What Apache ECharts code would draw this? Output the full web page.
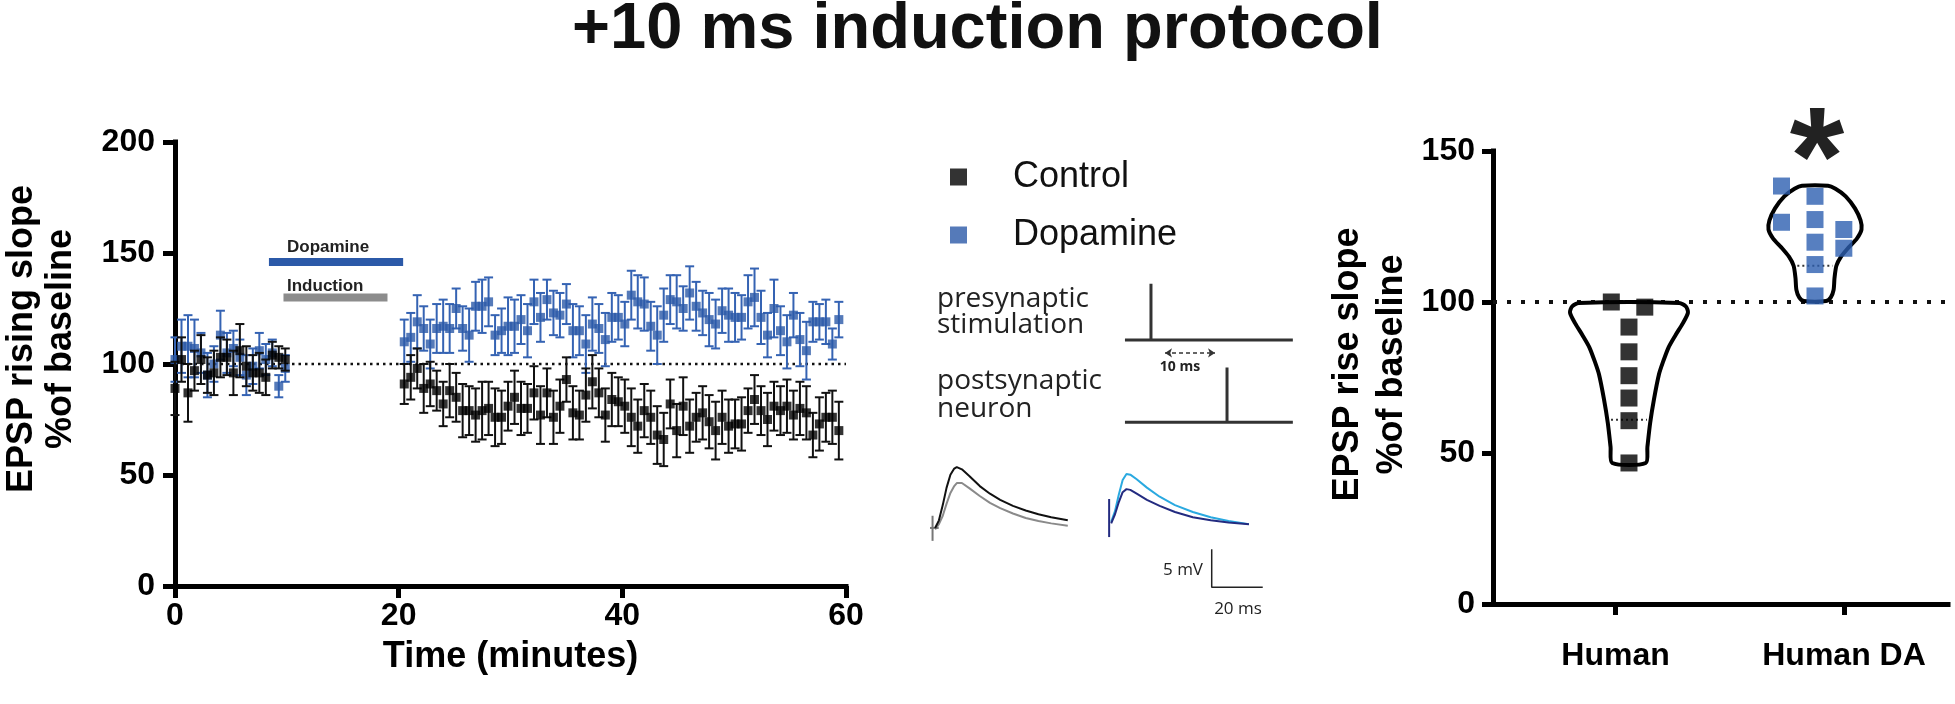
<!DOCTYPE html>
<html><head><meta charset="utf-8">
<script src="https://cdn.jsdelivr.net/npm/echarts@6/dist/echarts.min.js"></script>
<style>html,body{margin:0;padding:0;background:#fff}#c{width:1955px;height:704px}</style>
</head><body><div id="c"></div>
<script>
// ---------- Left panel: time course ----------
const baseTime = [0, 0.58, 1.16, 1.74, 2.32, 2.9, 3.48, 4.06, 4.64, 5.22, 5.8, 6.38, 6.96, 7.54, 8.12, 8.7, 9.28, 9.86];
const ctrlBase = [89, 102, 87, 97, 102, 95, 96, 103, 103, 96, 106, 99, 96, 96, 94, 104, 103, 102];
const ctrlBaseErr = [12, 10, 13, 9, 11, 8, 10, 9, 8, 10, 12, 9, 8, 9, 8, 6, 5, 5];
const daBase = [102, 108, 108, 107, 105, 95, 100, 113, 105, 107, 103, 95, 99, 106, 102, 105, 90, 98];
const daBaseErr = [10, 12, 14, 13, 9, 10, 8, 11, 9, 8, 8, 9, 8, 8, 7, 6, 5, 6];

const postTime = [20.5, 21.08, 21.66, 22.24, 22.82, 23.4, 23.98, 24.56, 25.14, 25.72,
  26.3, 26.88, 27.46, 28.04, 28.62, 29.2, 29.78, 30.36, 30.94, 31.52,
  32.1, 32.68, 33.26, 33.84, 34.42, 35, 35.58, 36.16, 36.74, 37.32,
  37.9, 38.48, 39.06, 39.64, 40.22, 40.8, 41.38, 41.96, 42.54, 43.12,
  43.7, 44.28, 44.86, 45.44, 46.02, 46.6, 47.18, 47.76, 48.34, 48.92,
  49.5, 50.08, 50.66, 51.24, 51.82, 52.4, 52.98, 53.56, 54.14, 54.72,
  55.3, 55.88, 56.46, 57.04, 57.62, 58.2, 58.78, 59.36];
const daPost = [110, 112, 119, 116, 109, 116, 117, 116, 125, 116,
  113, 126, 126, 128, 113, 115, 117, 117, 120, 115,
  128, 121, 129, 123, 122, 127, 115, 115, 109, 118,
  116, 111, 121, 121, 118, 131, 128, 127, 117, 113,
  122, 129, 128, 125, 132, 126, 123, 120, 118, 124,
  122, 121, 121, 128, 130, 121, 113, 125, 115, 110,
  122, 111, 106, 119, 119, 119, 109, 120];
const daPostErr = [10, 11, 12, 10, 11, 11, 12, 11, 9, 10,
  12, 11, 12, 11, 9, 10, 13, 12, 11, 12,
  10, 11, 9, 10, 10, 9, 12, 11, 13, 12,
  11, 12, 11, 10, 10, 11, 12, 12, 11, 13,
  12, 11, 12, 10, 12, 11, 10, 12, 11, 10,
  12, 11, 10, 12, 13, 12, 10, 13, 11, 12,
  10, 12, 13, 9, 8, 10, 7, 8];
const ctrlPost = [91, 94, 98, 89, 91, 88, 82, 88, 85, 79,
  79, 77, 79, 80, 76, 76, 81, 85, 80, 80,
  87, 77, 87, 76, 81, 93, 78, 77, 86, 92,
  87, 77, 84, 83, 81, 76, 72, 79, 76, 68,
  66, 82, 70, 81, 72, 76, 78, 74, 70, 76,
  72, 73, 73, 79, 84, 79, 75, 81, 79, 81,
  77, 80, 78, 68, 73, 76, 76, 70];
const ctrlPostErr = [9, 10, 9, 11, 10, 9, 10, 12, 11, 12,
  11, 12, 13, 12, 13, 12, 11, 12, 12, 11,
  12, 13, 11, 12, 12, 10, 12, 11, 12, 12,
  11, 12, 12, 11, 12, 13, 12, 12, 12, 13,
  12, 11, 12, 13, 12, 11, 12, 12, 13, 12,
  12, 11, 12, 10, 11, 11, 12, 11, 11, 12,
  11, 12, 12, 10, 12, 11, 12, 13];
const dopaminePeriod = [8.4, 20.4];   const dopamineLevel = 146;
const inductionPeriod = [9.7, 19.0];  const inductionLevel = 130;
const baselineLevel = 100;
const timeTicks = [0, 60, 20];          // min, max, step
const slopeTicks = [0, 200, 50];

// ---------- Middle: example traces (ms, mV) and schematic ----------
const traceTimeL = [2, 3.5, 5, 6.5, 8, 9.5, 10.5, 12.5, 15.5, 19.5, 23.5, 27.5, 32.5, 37.5, 42.5, 47.5, 54];
const ctrlTraceA = [12.1, 13.1, 15.1, 17.4, 19.1, 19.9, 20.1, 19.8, 18.9, 17.6, 16.6, 15.8, 15.0, 14.4, 13.9, 13.5, 13.1];
const ctrlTraceB = [11.9, 12.6, 13.7, 15.3, 16.7, 17.6, 18.0, 18.0, 17.3, 16.3, 15.4, 14.7, 14.0, 13.4, 13.0, 12.7, 12.4];
const traceTimeR = [71, 72.5, 74, 75.5, 77, 78.5, 81, 85, 90, 96, 103, 110, 117, 125];
const daTraceA = [12.9, 14.3, 16.5, 18.4, 19.2, 19.1, 18.5, 17.4, 16.2, 15.1, 14.2, 13.5, 13.0, 12.6];
const daTraceB = [12.7, 13.9, 15.5, 16.8, 17.2, 17.1, 16.6, 15.8, 15.0, 14.2, 13.5, 13.1, 12.8, 12.6];
const artifactL = [[1.0, 10.4], [1.0, 13.7]];
const artifactLh = [[0, 12.1], [3.4, 12.1]];
const artifactR = [[70.2, 10.9], [70.2, 15.9]];
const scaleBar = [[110.4, 9.3], [110.4, 4.3], [130.4, 4.3]];   // 5 mV, 20 ms
const preTrace = [[76.4, 36.8], [86.6, 36.8], [86.6, 44.2], [86.6, 36.8], [142.2, 36.8]];
const postTrace = [[76.4, 26.0], [116.4, 26.0], [116.4, 33.2], [116.4, 26.0], [142.2, 26.0]];
const delayArrow = [[92.1, 35.1], [111.7, 35.1]];

// ---------- Right panel: violin ----------
const groups = ['Human', 'Human DA'];
const groupPos = [1, 2];
const labelPos = [0.928, 2.156];
const humanVals = [100, 98.3, 91.7, 83.5, 75.6, 68.2, 60.7, 46.7];
const humanJitter = [-0.095, 0.085, 0, 0, 0, 0, 0, 0];
const daVals = [138.4, 126.4, 135, 127.3, 119.8, 112.4, 102, 124, 117.8];
const daJitter = [-0.18, -0.18, 0, 0, 0, 0, 0, 0.155, 0.155];
const humanViolinY = [99.7, 98.5, 96.5, 93, 89, 85, 80, 76, 68, 60, 52, 46.7];
const humanViolinW = [0.27, 0.306, 0.317, 0.29, 0.25, 0.213, 0.182, 0.161, 0.135, 0.114, 0.099, 0.09];
const daViolinY = [138.5, 137.5, 135, 131, 127, 124, 121, 118, 115, 112, 108, 104, 101.5, 100.3];
const daViolinW = [0.07, 0.11, 0.165, 0.215, 0.245, 0.25, 0.225, 0.18, 0.14, 0.115, 0.105, 0.1, 0.085, 0.06];
const quartileVals = [61, 112];
const riseTicks = [0, 150, 50];
const groupAxisRange = [0.269, 2.715];

// ---------- styles ----------
const FONT = "'Liberation Sans', Arial, Helvetica, sans-serif";
const SFONT = "'Open Sans', 'Noto Sans', sans-serif";
const BLUE = '#2b59a8';
const BLACK = '#000';

function errBars(name, times, vals, errs, color, z) {
  return {
    type: 'custom', name: name, xAxisIndex: 0, yAxisIndex: 0, z: z, silent: true,
    encode: { x: 0, y: [1, 2] },
    data: times.map((t, i) => [t, vals[i] - errs[i], vals[i] + errs[i]]),
    renderItem: function (params, api) {
      const x = api.value(0);
      const lo = api.coord([x, api.value(1)]);
      const hi = api.coord([x, api.value(2)]);
      const w = 4.5, st = { stroke: color, lineWidth: 2 };
      return { type: 'group', children: [
        { type: 'line', shape: { x1: lo[0], y1: lo[1], x2: hi[0], y2: hi[1] }, style: st },
        { type: 'line', shape: { x1: hi[0] - w, y1: hi[1], x2: hi[0] + w, y2: hi[1] }, style: st },
        { type: 'line', shape: { x1: lo[0] - w, y1: lo[1], x2: lo[0] + w, y2: lo[1] }, style: st }
      ]};
    }
  };
}
function pts(times, vals) { return times.map((t, i) => [t, vals[i]]); }
function midLine(data, color, width, z) {
  return { type: 'line', xAxisIndex: 1, yAxisIndex: 1, data: data, showSymbol: false, symbol: 'none',
    lineStyle: { color: color, width: width }, z: z || 2, silent: true, animation: false };
}
const profiles = [[humanViolinY, humanViolinW], [daViolinY, daViolinW]];
function hwAt(p, v) {
  const ys = p[0], ws = p[1];
  for (let i = 0; i < ys.length - 1; i++) {
    if (v <= ys[i] && v >= ys[i + 1]) {
      const f = (v - ys[i]) / (ys[i + 1] - ys[i]);
      return ws[i] + f * (ws[i + 1] - ws[i]);
    }
  }
  return ws[ws.length - 1];
}

const tickText = { fontFamily: FONT, fontWeight: 'bold', fontSize: 32, color: BLACK };
const nameText = { fontFamily: FONT, fontWeight: 'bold', fontSize: 36, color: BLACK };

const option = {
  animation: false,
  backgroundColor: '#fff',
  title: { text: '+10 ms induction protocol', left: 'center', top: -7,
    textStyle: { fontFamily: FONT, fontWeight: 'bold', fontSize: 65, color: '#111' } },
  legend: { orient: 'vertical', left: 950, top: 157, padding: 0, itemWidth: 17, itemHeight: 17, itemGap: 18,
    icon: 'rect', data: ['Control', 'Dopamine'], selectedMode: false,
    textStyle: { fontFamily: FONT, fontSize: 36, color: '#111', lineHeight: 40, padding: [0, 0, 0, 41] } },
  grid: [
    { left: 175, top: 142, width: 671, height: 444 },
    { left: 930, top: 270, width: 370, height: 350 },
    { left: 1493, top: 151, width: 455, height: 453 }
  ],
  xAxis: [
    { type: 'value', gridIndex: 0, min: timeTicks[0], max: timeTicks[1], interval: timeTicks[2],
      splitLine: { show: false },
      axisLine: { onZero: false, lineStyle: { color: BLACK, width: 5, cap: 'square' } },
      axisTick: { length: 12, lineStyle: { color: BLACK, width: 5 } },
      axisLabel: Object.assign({ margin: 13, lineHeight: 34 }, tickText),
      name: 'Time (minutes)', nameLocation: 'middle', nameGap: 48,
      nameTextStyle: Object.assign({ lineHeight: 38 }, nameText) },
    { type: 'value', gridIndex: 1, min: 0, max: 145, show: false },
    { type: 'value', gridIndex: 2, min: groupAxisRange[0], max: groupAxisRange[1],
      splitLine: { show: false },
      axisLine: { onZero: false, lineStyle: { color: BLACK, width: 5, cap: 'square' } },
      axisTick: { length: 11, customValues: labelPos, lineStyle: { color: BLACK, width: 5 } },
      axisLabel: Object.assign({ margin: 35, lineHeight: 34, customValues: labelPos,
        formatter: v => { let k = 0; labelPos.forEach((p, i) => { if (Math.abs(p - v) < Math.abs(labelPos[k] - v)) k = i; }); return groups[k]; } }, tickText) }
  ],
  yAxis: [
    { type: 'value', gridIndex: 0, min: slopeTicks[0], max: slopeTicks[1], interval: slopeTicks[2],
      splitLine: { show: false },
      axisLine: { onZero: false, lineStyle: { color: BLACK, width: 5, cap: 'square' } },
      axisTick: { length: 12, lineStyle: { color: BLACK, width: 5 } },
      axisLabel: Object.assign({ margin: 20 }, tickText),
      name: 'EPSP rising slope\n%of baseline', nameLocation: 'middle', nameRotate: 90, nameGap: 94,
      nameTextStyle: Object.assign({ lineHeight: 39, padding: [0, 0, 0, 50] }, nameText) },
    { type: 'value', gridIndex: 1, min: 0, max: 46, show: false },
    { type: 'value', gridIndex: 2, min: riseTicks[0], max: riseTicks[1], interval: riseTicks[2],
      splitLine: { show: false },
      axisLine: { onZero: false, lineStyle: { color: BLACK, width: 5, cap: 'square' } },
      axisTick: { length: 11, lineStyle: { color: BLACK, width: 5 } },
      axisLabel: Object.assign({ margin: 18 }, tickText),
      name: 'EPSP rise slope\n%of baseline', nameLocation: 'middle', nameRotate: 90, nameGap: 79,
      nameTextStyle: Object.assign({ lineHeight: 44, padding: [0, 0, 0, 26] }, nameText) }
  ],
  series: [
    // left panel
    { type: 'line', xAxisIndex: 0, yAxisIndex: 0, data: [[timeTicks[0], baselineLevel], [timeTicks[1], baselineLevel]],
      symbol: 'none', lineStyle: { color: '#111', width: 2.5, type: [2.5, 4] }, z: 1, silent: true },
    { type: 'line', xAxisIndex: 0, yAxisIndex: 0, data: dopaminePeriod.map(t => [t, dopamineLevel]),
      symbol: 'none', lineStyle: { color: BLUE, width: 8 }, z: 2, silent: true },
    { type: 'line', xAxisIndex: 0, yAxisIndex: 0, data: inductionPeriod.map(t => [t, inductionLevel]),
      symbol: 'none', lineStyle: { color: '#8c8c8c', width: 8 }, z: 2, silent: true },
    errBars('daErr', baseTime.concat(postTime), daBase.concat(daPost), daBaseErr.concat(daPostErr), '#3563b3', 3),
    { type: 'scatter', name: 'Dopamine', xAxisIndex: 0, yAxisIndex: 0, symbol: 'rect', symbolSize: 9,
      itemStyle: { color: BLUE }, z: 4, data: pts(baseTime, daBase).concat(pts(postTime, daPost)) },
    errBars('ctrlErr', baseTime.concat(postTime), ctrlBase.concat(ctrlPost), ctrlBaseErr.concat(ctrlPostErr), '#111', 5),
    { type: 'scatter', name: 'Control', xAxisIndex: 0, yAxisIndex: 0, symbol: 'rect', symbolSize: 9,
      itemStyle: { color: BLACK }, z: 6, data: pts(baseTime, ctrlBase).concat(pts(postTime, ctrlPost)) },

    // middle traces & schematic
    midLine(pts(traceTimeL, ctrlTraceB), '#8a8a8a', 2),
    midLine(pts(traceTimeL, ctrlTraceA), '#111', 2, 3),
    midLine(artifactL, '#777', 2),
    midLine(artifactLh, '#777', 2),
    midLine(pts(traceTimeR, daTraceA), '#2aa9e0', 2),
    midLine(pts(traceTimeR, daTraceB), '#232b80', 2, 3),
    midLine(artifactR, '#232b80', 2),
    midLine(scaleBar, '#222', 1.5),
    midLine(preTrace, '#333', 3),
    midLine(postTrace, '#333', 3),
    { type: 'lines', coordinateSystem: 'cartesian2d', xAxisIndex: 1, yAxisIndex: 1, silent: true,
      symbol: ['arrow', 'arrow'], symbolSize: 7,
      lineStyle: { color: '#333', width: 1.5, type: [4, 3], opacity: 1 },
      data: [{ coords: delayArrow }] },

    // right panel
    { type: 'line', xAxisIndex: 2, yAxisIndex: 2, data: [[groupAxisRange[0], baselineLevel], [groupAxisRange[1], baselineLevel]],
      symbol: 'none', lineStyle: { color: '#111', width: 4, type: [4, 10] }, z: 1, silent: true },
    { type: 'custom', xAxisIndex: 2, yAxisIndex: 2, z: 3, silent: true,
      data: [[groupPos[0], humanViolinY[0]], [groupPos[1], daViolinY[0]]],
      renderItem: function (params, api) {
        const c = api.value(0);
        const p = profiles[params.dataIndex];
        const ys = p[0], ws = p[1];
        const points = [];
        for (let i = 0; i < ys.length; i++) points.push(api.coord([c + ws[i], ys[i]]));
        for (let i = ys.length - 1; i >= 0; i--) points.push(api.coord([c - ws[i], ys[i]]));
        return { type: 'polygon', shape: { points: points, smooth: 0.25 },
          style: { fill: 'rgba(255,255,255,0)', stroke: '#000', lineWidth: 4, lineJoin: 'round' } };
      } },
    { type: 'custom', xAxisIndex: 2, yAxisIndex: 2, z: 3, silent: true,
      data: [[groupPos[0], quartileVals[0]], [groupPos[1], quartileVals[1]]],
      renderItem: function (params, api) {
        const c = api.value(0), v = api.value(1);
        const w = hwAt(profiles[params.dataIndex], v) - 0.02;
        const a = api.coord([c - w, v]), b = api.coord([c + w, v]);
        return { type: 'line', shape: { x1: a[0], y1: a[1], x2: b[0], y2: b[1] },
          style: { stroke: '#333', lineWidth: 2, lineDash: [2, 3] } };
      } },
    { type: 'scatter', xAxisIndex: 2, yAxisIndex: 2, symbol: 'rect', symbolSize: 17, z: 5,
      itemStyle: { color: BLACK }, data: humanVals.map((v, i) => [groupPos[0] + humanJitter[i], v]) },
    { type: 'scatter', xAxisIndex: 2, yAxisIndex: 2, symbol: 'rect', symbolSize: 17, z: 5,
      itemStyle: { color: '#2d5fb0' }, data: daVals.map((v, i) => [groupPos[1] + daJitter[i], v]) }
  ],
  graphic: [
    { type: 'text', left: 287, top: 239, silent: true,
      style: { text: 'Dopamine', fontFamily: FONT, fontWeight: 'bold', fontSize: 17, fill: '#222' } },
    { type: 'text', left: 287, top: 278, silent: true,
      style: { text: 'Induction', fontFamily: FONT, fontWeight: 'bold', fontSize: 17, fill: '#222' } },
    { type: 'text', left: 937, top: 285, silent: true,
      style: { text: 'presynaptic\nstimulation', fontFamily: SFONT, fontSize: 28, lineHeight: 26, fill: '#222' } },
    { type: 'text', left: 937, top: 367, silent: true,
      style: { text: 'postsynaptic\nneuron', fontFamily: SFONT, fontSize: 28, lineHeight: 28, fill: '#222' } },
    { type: 'text', silent: true,
      style: { text: '10 ms', x: 1180, y: 367, textAlign: 'center', align: 'center', textVerticalAlign: 'middle', verticalAlign: 'middle',
        fontFamily: SFONT, fontWeight: 'bold', fontSize: 14, fill: '#222' } },
    { type: 'text', silent: true,
      style: { text: '5 mV', x: 1203, y: 570, textAlign: 'right', align: 'right', textVerticalAlign: 'middle', verticalAlign: 'middle',
        fontFamily: SFONT, fontSize: 17, fill: '#222' } },
    { type: 'text', silent: true,
      style: { text: '20 ms', x: 1238, y: 609, textAlign: 'center', align: 'center', textVerticalAlign: 'middle', verticalAlign: 'middle',
        fontFamily: SFONT, fontSize: 17, fill: '#222' } },
    { type: 'text', silent: true,
      style: { text: '*', x: 1817, y: 165, textAlign: 'center', align: 'center', textVerticalAlign: 'middle', verticalAlign: 'middle',
        fontFamily: FONT, fontWeight: 'bold', fontSize: 140, fill: '#222' } }
  ]
};

const chart = echarts.init(document.getElementById('c'), null, { renderer: 'canvas' });
chart.setOption(option);
</script>
</body></html>
